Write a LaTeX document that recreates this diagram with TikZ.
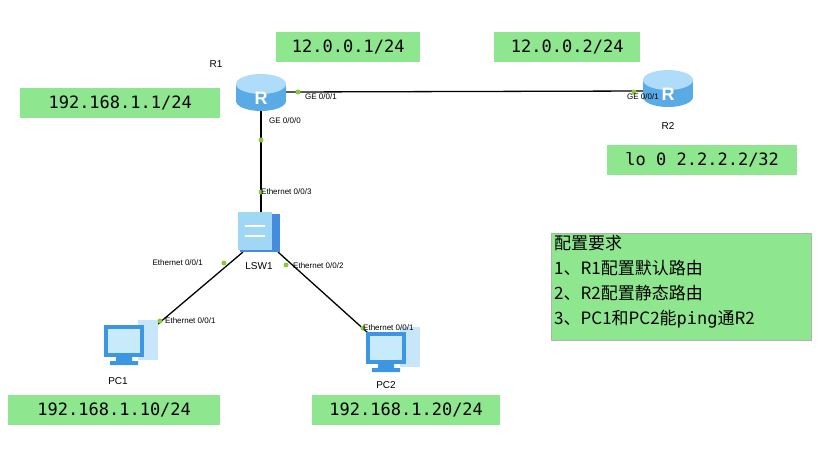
\documentclass[tikz,border=0pt]{standalone}
\usepackage{fontspec}
\setmainfont{Liberation Sans}
\newfontfamily\monof{DejaVu Sans Mono}
\newfontfamily\cjk{Noto Sans CJK SC}
\definecolor{ipgreen}{RGB}{142,230,142}
\definecolor{rdark}{RGB}{90,170,230}
\definecolor{rlight}{RGB}{175,220,250}
\definecolor{sdark}{RGB}{70,140,220}
\definecolor{slight}{RGB}{160,215,245}
\definecolor{pcpale}{RGB}{200,230,250}
\definecolor{pcblue}{RGB}{60,150,225}
\definecolor{pcscreen}{RGB}{200,235,252}
\definecolor{dotgreen}{RGB}{140,200,60}
\begin{document}
\begin{tikzpicture}[x=1pt,y=-1pt,
 ip/.style={fill=ipgreen,inner sep=0pt,anchor=north west},
 iptext/.style={font=\monof\fontsize{17}{17}\selectfont},
 lab/.style={font=\fontsize{8}{8}\selectfont,inner sep=1pt},
 dev/.style={font=\fontsize{10}{10}\selectfont,inner sep=1pt},
 dot/.style={circle,fill=dotgreen,inner sep=0pt,minimum size=5pt},
 link/.style={line width=1.3pt}]
\useasboundingbox (0,0) rectangle (832,456);
\newcommand{\router}[2]{%
 \fill[rdark] (#1-25,#2-8) rectangle (#1+25,#2+9);
 \fill[rdark] (#1,#2+9) ellipse (25 and 10);
 \fill[rlight] (#1,#2-8) ellipse (25 and 10);
 \node[text=white,font=\bfseries\fontsize{18}{18}\selectfont] at (#1,#2+6) {R};}
\node (R1) [minimum width=50pt,minimum height=38pt] at (261,92) {};
\node (R2) [minimum width=50pt,minimum height=38pt] at (668,88) {};
\node (LSW1) [minimum width=40pt,minimum height=40pt] at (258,232) {};
\node (PC1) [minimum width=56pt,minimum height=52pt] at (130,345) {};
\node (PC2) [minimum width=56pt,minimum height=52pt] at (392,352) {};
\draw[link] (286,92) -- (645,91);
\draw[link] (261,110) -- (261,212);
\draw[link] (243,252) -- (158,324);
\draw[link] (278,252) -- (368,333);
\router{261}{92}
\router{668}{88}
\fill[sdark] (240,214) rectangle (280,252);
\fill[slight] (238,212) rectangle (272,250);
\draw[white,line width=1.5pt] (245,226)--(265,226) (245,236)--(265,236);
\newcommand{\pc}[2]{%
 \fill[pcpale] (#1+8,#2-25) rectangle (#1+28,#2+15);
 \fill[pcblue] (#1-26,#2-20) rectangle (#1+14,#2+12);
 \fill[pcscreen] (#1-22,#2-16) rectangle (#1+10,#2+8);
 \fill[pcblue] (#1-14,#2+12) rectangle (#1+2,#2+16) (#1-20,#2+16) rectangle (#1+8,#2+20);}
\pc{130}{345}
\pc{392}{352}
\foreach \p in {(298,92),(634,92),(261,140),(261,192),(224,263),(160,321),(286,265),(363,328)} \node[dot] at \p {};
\node[dev] at (216,64) {R1};
\node[dev] at (668,126) {R2};
\node[dev] at (259,266) {LSW1};
\node[dev] at (118,381) {PC1};
\node[dev] at (386,385) {PC2};
\node[lab,anchor=west] at (304,97) {GE 0/0/1};
\node[lab,anchor=west] at (626,97) {GE 0/0/1};
\node[lab,anchor=west] at (268,121) {GE 0/0/0};
\node[lab,anchor=west] at (260,192) {Ethernet 0/0/3};
\node[lab,anchor=east] at (204,263) {Ethernet 0/0/1};
\node[lab,anchor=west] at (292,266) {Ethernet 0/0/2};
\node[lab,anchor=west] at (164,321) {Ethernet 0/0/1};
\node[lab,anchor=west] at (362,328) {Ethernet 0/0/1};
\node[ip,minimum width=144pt,minimum height=30pt] (a) at (276,32) {};
\node[iptext] at (a.center) {12.0.0.1/24};
\node[ip,minimum width=146pt,minimum height=30pt] (b) at (494,32) {};
\node[iptext] at (b.center) {12.0.0.2/24};
\node[ip,minimum width=200pt,minimum height=30pt] (c) at (20,88) {};
\node[iptext] at (c.center) {192.168.1.1/24};
\node[ip,minimum width=190pt,minimum height=30pt] (d) at (607,145) {};
\node[iptext] at (d.center) {lo 0 2.2.2.2/32};
\node[ip,minimum width=212pt,minimum height=30pt] (e) at (8,395) {};
\node[iptext] at (e.center) {192.168.1.10/24};
\node[ip,minimum width=188pt,minimum height=30pt] (f) at (312,395) {};
\node[iptext] at (f.center) {192.168.1.20/24};
\node[ip,draw=gray!60,minimum width=260pt,minimum height=107pt] (g) at (551,233) {};
\node[anchor=north west,align=left,inner sep=0pt,font=\cjk\fontsize{17}{25}\selectfont] (req) at (554,235)
 {配置要求\\1、R1配置默认路由\\2、R2配置静态路由\\3、PC1和PC2能{\monof ping}通R2};
\end{tikzpicture}
\end{document}
